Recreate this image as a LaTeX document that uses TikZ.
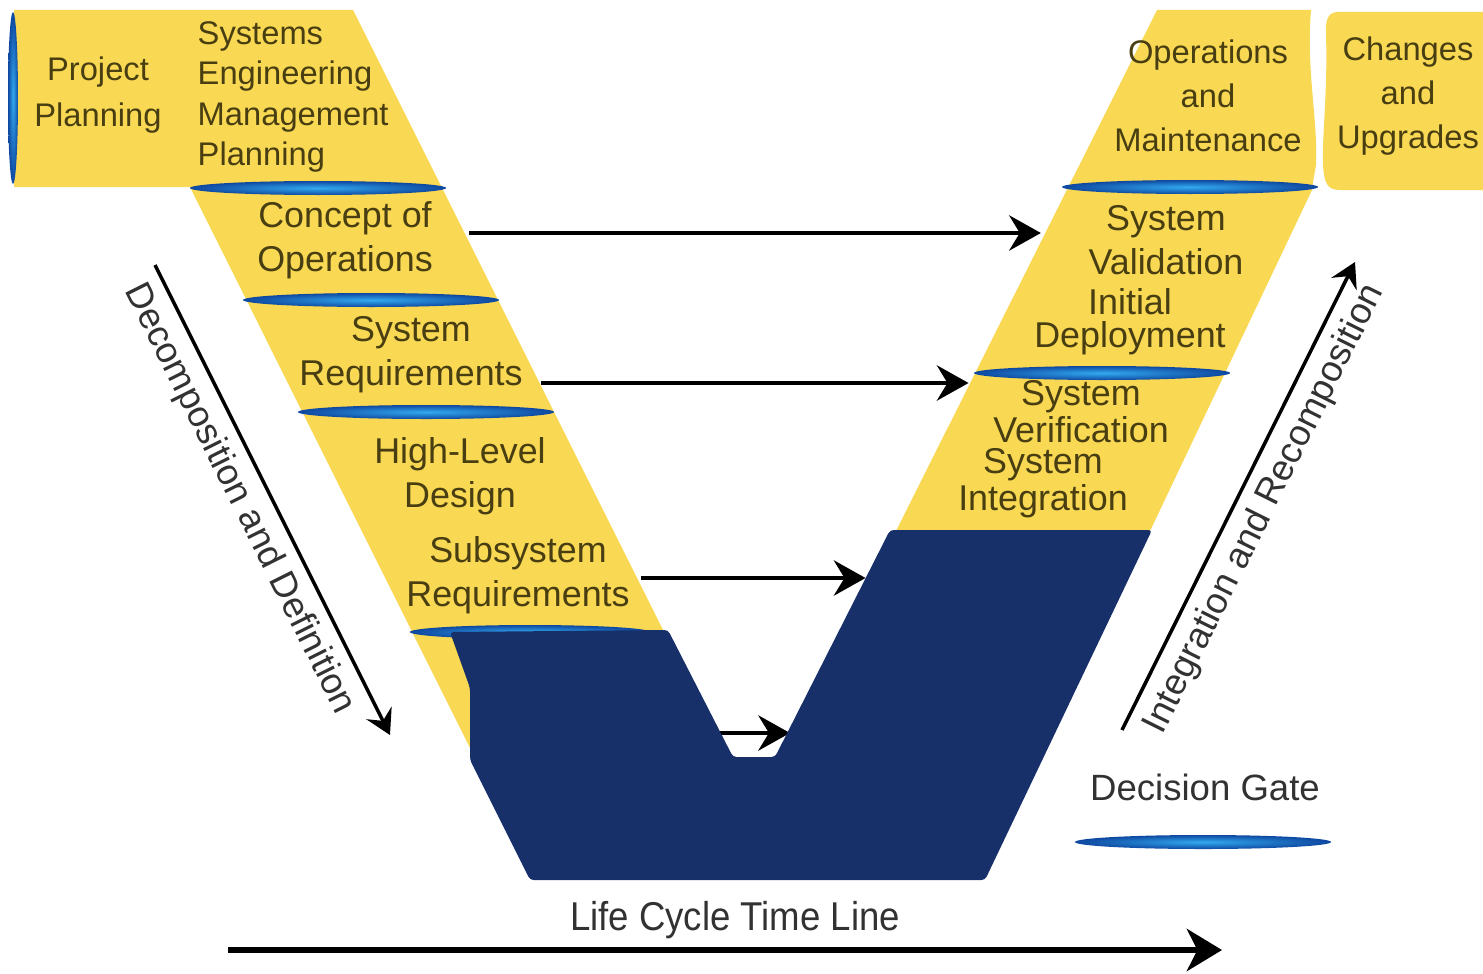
\documentclass[tikz,border=0pt]{standalone}
\usepackage{fontspec}
\setmainfont{Liberation Sans}
\usetikzlibrary{arrows.meta,positioning}

\definecolor{vyellow}{RGB}{249,217,83}
\definecolor{vnavy}{RGB}{24,48,106}
\definecolor{gatedark}{RGB}{14,72,160}
\definecolor{gatelight}{RGB}{50,170,240}
\definecolor{vtext}{RGB}{72,62,18}
\definecolor{vgray}{RGB}{50,50,50}

\tikzset{
  phase/.style={font=\fontsize{10.2}{12.5}\selectfont, text=vtext, align=center, inner sep=0pt},
  toplbl/.style={phase, font=\fontsize{9.3}{11.4}\selectfont},
  tightlbl/.style={phase, font=\fontsize{10.2}{9.3}\selectfont},
  flow/.style={line width=1.3pt, -{Stealth[length=9pt,width=10pt,inset=3pt]}},
  trend/.style={line width=1pt, -{Stealth[length=7pt,width=8pt,inset=2.5pt]}},
  trendlbl/.style={font=\fontsize{10.4}{12}\selectfont, text=vgray, inner sep=0pt}
}

\begin{document}
\begin{tikzpicture}[x=0.01cm, y=-0.01cm] % one unit = one pixel, y downwards
    \useasboundingbox (0,0) rectangle (1483,973);

    % Draw the yellow bands of the V
    \fill[vyellow] (14,10) -- (353,10) -- (733,770) -- (481,770) -- (190,187) -- (14,187) -- cycle;
    \fill[vyellow] (1157,10) -- (1311,10) .. controls (1306,70) and (1318,120) .. (1316,165)
        -- (1313,182) -- (1312,190) -- (1150,531) -- (896,531) -- cycle;
    \fill[vyellow] (1483,12) -- (1338,12) .. controls (1328,12) and (1325,20) .. (1326,35)
        .. controls (1328,100) and (1320,150) .. (1324,175)
        .. controls (1326,186) and (1330,190) .. (1340,190) -- (1483,190) -- cycle;

    % Draw the decision gates
    \foreach \cx/\cy/\rx in {318/188/128, 371/300/128, 426/412/128, 530/632/120,
                             1190/187/128, 1102/373/128, 1203/842/128} {
        \shade[inner color=gatelight, outer color=gatedark] (\cx,\cy) ellipse [x radius=\rx, y radius=7];
    }
    \shade[inner color=gatelight, outer color=gatedark] (13,98) ellipse [x radius=5, y radius=86];

    % Left arm
    \node[toplbl, font=\fontsize{9.3}{13}\selectfont] (projplan) at (98,95) {Project\\Planning};
    \node[toplbl, align=left, anchor=west] (semp) at (197,97) {Systems\\Engineering\\Management\\Planning};
    \node[phase] (conops) at (345,240) {Concept of\\Operations};
    \node[phase] (sysreq) at (411,355) {System\\Requirements};
    \node[phase] (hld) at (460,476) {High-Level\\Design};
    \node[phase] (subreq) at (518,575) {Subsystem\\Requirements};

    % Right arm
    \node[toplbl, font=\fontsize{9.3}{12.5}\selectfont] (opsmaint) at (1208,96) {Operations\\and\\Maintenance};
    \node[toplbl, font=\fontsize{9.3}{12.5}\selectfont] (changes) at (1408,96) {Changes\\and\\Upgrades};
    \node[phase] (valid) at (1166,240) {System\\Validation};
    \node[tightlbl] (deploy) at (1130,322) {Initial\\Deployment};
    \node[tightlbl] (verif) at (1081,412) {System\\Verification};
    \node[tightlbl] (integ) at (1043,483) {System\\Integration};

    % Arrows across the V
    \draw[flow] ([shift={(36,-7)}]conops.east) -- ([shift={(-47,-7)}]valid.west);
    \draw[flow] ([shift={(18,28)}]sysreq.east) -- ([shift={(-24,-29)}]verif.west);
    \draw[flow] ([shift={(11,3)}]subreq.east) -- ([shift={(-92,95)}]integ.west);
    \coordinate (lowA) at (720,733);
    \coordinate (lowB) at (790,733);
    \draw[flow] (lowA) -- (lowB);

    % Covering block
    \fill[vnavy, rounded corners=1pt] (450,632) -- (668,630) -- (733,757) -- (775,757) -- (890,530)
        -- (1152,530) -- (985,880) -- (530,880) -- (470,760) -- (470,688) -- cycle;

    % Trend arrows
    \coordinate (decA) at (155,265);
    \coordinate (decB) at (390,735);
    \draw[trend] (decA) -- node[trendlbl, sloped, pos=0.47, below=3pt] {Decomposition and Definition} (decB);
    \coordinate (recA) at (1122,730);
    \coordinate (recB) at (1355,262);
    \draw[trend] (recA) -- node[trendlbl, sloped, pos=0.5, below=3pt] {Integration and Recomposition} (recB);

    % Legend and time line
    \node[trendlbl] (gatelbl) at (1205,787) {Decision Gate};
    \node[trendlbl] (timeline) at (735,920) {\scalebox{1}[1.1]{Life Cycle Time Line}};
    \coordinate (lifeA) at (228,950);
    \coordinate (lifeB) at (1222,950);
    \draw[line width=1.7pt, -{Stealth[length=10pt,width=12pt,inset=3pt]}] (lifeA) -- (lifeB);

\end{tikzpicture}
\end{document}
